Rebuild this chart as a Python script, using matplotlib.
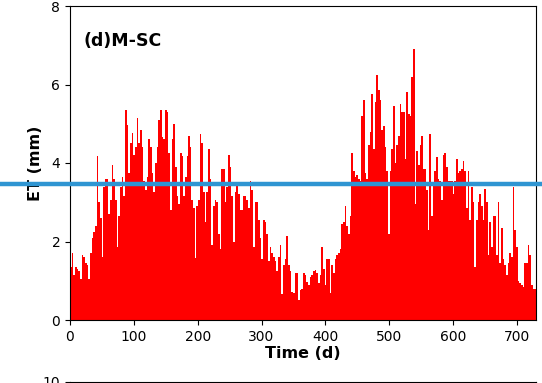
import numpy as np
import matplotlib
matplotlib.use("Agg")
import matplotlib.pyplot as plt
from matplotlib.lines import Line2D

# Daily ET, aggregated into 280 equal bins spanning 0-730 d
et_values = [
    1.35, 1.7, 1.15, 1.35, 1.3, 1.25, 1.05, 1.65, 1.6, 1.45,
    1.4, 1.05, 1.7, 2.1, 2.25, 2.4, 4.17, 3.0, 2.6, 1.6,
    3.4, 3.6, 3.6, 2.7, 3.05, 3.95, 3.6, 3.05, 1.85, 2.65,
    3.4, 3.65, 3.15, 5.35, 4.98, 3.75, 4.5, 4.77, 4.2, 4.4,
    5.15, 4.5, 4.85, 4.4, 3.55, 3.3, 3.65, 4.6, 4.4, 3.75,
    3.25, 4.0, 4.4, 5.1, 5.36, 4.65, 4.6, 5.36, 5.3, 4.25,
    2.8, 4.6, 5.0, 3.9, 3.15, 2.95, 4.25, 4.17, 3.15, 3.65,
    4.17, 4.7, 4.4, 3.05, 2.85, 1.57, 2.9, 3.05, 4.75, 4.5,
    3.25, 2.5, 3.25, 4.35, 3.6, 1.9, 2.9, 3.05, 3.0, 2.2,
    1.8, 3.85, 3.85, 3.0, 3.4, 4.2, 3.9, 3.15, 2.0, 3.25,
    3.45, 3.2, 2.8, 2.8, 3.15, 3.15, 3.05, 2.85, 3.55, 3.3,
    1.85, 3.0, 3.0, 2.55, 2.1, 1.55, 2.55, 2.5, 2.2, 1.5,
    1.85, 1.7, 1.6, 1.5, 1.25, 1.6, 1.9, 0.65, 1.4, 1.55,
    2.15, 1.4, 1.25, 0.72, 0.68, 1.2, 1.2, 0.5, 0.77, 0.8,
    1.2, 1.15, 0.98, 0.9, 1.1, 1.15, 1.25, 1.28, 1.2, 0.95,
    1.15, 1.85, 1.3, 0.9, 1.55, 1.55, 0.68, 1.4, 1.2, 1.55,
    1.65, 1.7, 1.8, 2.45, 2.5, 2.9, 2.4, 2.2, 2.65, 4.25,
    3.8, 3.65, 3.7, 3.6, 3.55, 5.2, 5.6, 3.75, 3.6, 4.45,
    4.8, 5.75, 4.35, 5.55, 6.25, 5.85, 5.6, 4.85, 4.95, 4.4,
    3.8, 2.2, 3.8, 4.35, 5.45, 4.0, 4.45, 4.7, 5.5, 5.3,
    5.3, 4.1, 5.8, 5.25, 5.2, 6.2, 6.9, 2.95, 4.3, 3.95,
    4.45, 4.7, 3.85, 3.85, 3.3, 2.3, 4.75, 2.65, 3.5, 3.8,
    4.15, 3.6, 3.55, 3.05, 4.2, 4.25, 3.9, 3.55, 3.55, 3.55,
    3.2, 3.55, 4.1, 3.75, 3.8, 3.85, 4.05, 3.8, 2.85, 3.8,
    2.55, 3.4, 3.0, 1.35, 2.55, 3.0, 3.2, 2.9, 2.55, 3.35,
    3.0, 1.65, 2.5, 1.85, 2.65, 2.65, 1.65, 3.0, 1.45, 2.35,
    1.55, 1.4, 1.15, 1.45, 1.7, 1.6, 3.4, 2.3, 1.85, 1.0,
    0.95, 0.9, 0.85, 1.45, 1.45, 1.9, 1.65, 0.9, 0.8, 0.8,
]
total_days = 730
x_ticks = [0, 100, 200, 300, 400, 500, 600, 700]
y_ticks = [0, 2, 4, 6, 8]
next_panel_ticks = [10]
panel_label = "(d)M-SC"
x_label = "Time (d)"
y_label = "ET (mm)"
ref_line_value = 3.47

n = len(et_values)
step = total_days / n
starts = np.arange(n) * step

W, H = 542, 383
fig = plt.figure(figsize=(W / 100, H / 100), dpi=100)

ax = fig.add_axes([70 / W, 1 - 320 / H, 466 / W, 314 / H])
ax.bar(starts, et_values, width=step, align="edge", color="#ff0000",
       edgecolor="none", linewidth=0)
ax.set_xlim(0, total_days)
ax.set_ylim(0, 8)
ax.set_xticks(x_ticks)
ax.set_yticks(y_ticks)
ax.tick_params(labelsize=10)
ax.set_xlabel(x_label, fontsize=11.5, fontweight="bold", labelpad=2)
ax.set_ylabel(y_label, fontsize=11.5, fontweight="bold", labelpad=6)
ax.text(0.03, 0.89, panel_label, transform=ax.transAxes, fontsize=12.5,
        fontweight="bold", va="center", ha="left")

# Next panel below, mostly cut off by the crop
ax2 = fig.add_axes([70 / W, -0.5, 466 / W, 0.5 + 1.5 / H])
ax2.set_ylim(0, 10)
ax2.set_yticks(next_panel_ticks)
ax2.set_xticks([])
ax2.tick_params(labelsize=10)

# Horizontal blue line across the whole figure
yfrac = (ax.transData.transform((0, ref_line_value))[1]) / (H)
fig.add_artist(Line2D([0, 1], [yfrac, yfrac], transform=fig.transFigure,
                      color="#2f95d2", linewidth=3.2, zorder=10))

fig.savefig("out.png", dpi=100)
